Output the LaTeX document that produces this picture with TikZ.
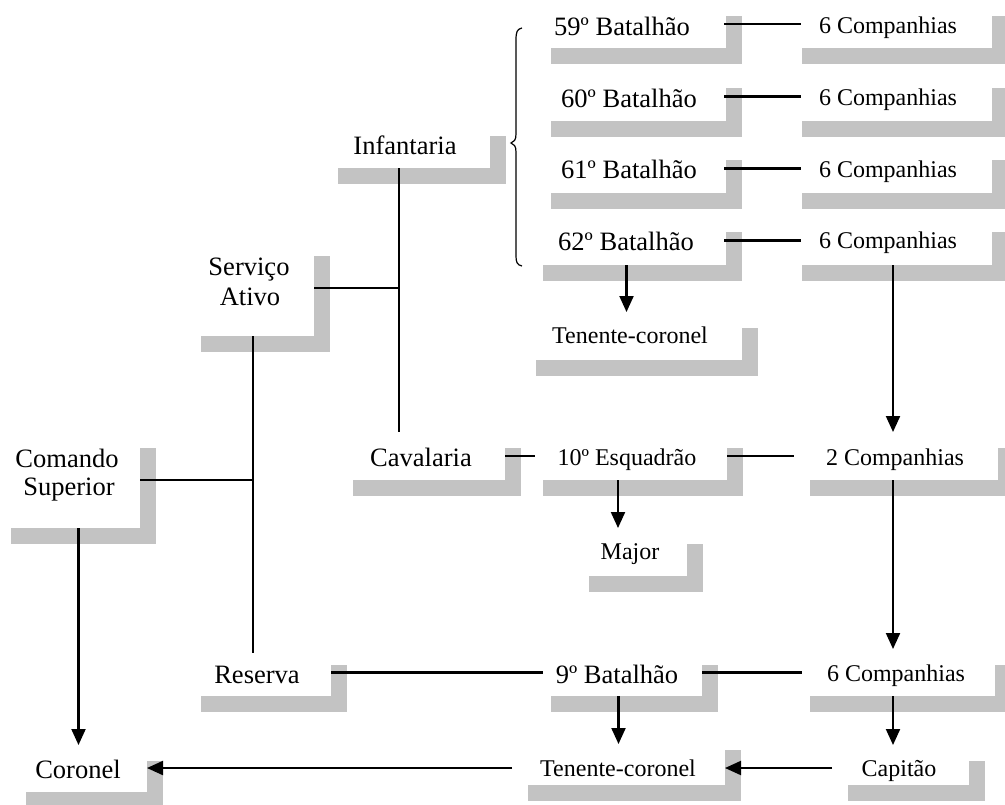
\documentclass[tikz,border=0pt]{standalone}
\usepackage{fontspec}
\setmainfont{Liberation Serif}
\usetikzlibrary{arrows.meta,calc,fit,shadows}
\definecolor{shgray}{RGB}{195,195,195}
\tikzset{
 bx/.style={inner sep=0pt, outer sep=0pt, fill=white, drop shadow={shadow xshift=12pt, shadow yshift=-12pt, fill=shgray, opacity=1}},
 big/.style={inner sep=0pt, anchor=base, font=\fontsize{19.9}{22}\selectfont},
 small/.style={inner sep=0pt, anchor=base, font=\fontsize{18}{20}\selectfont},
 con/.style={line width=1.55pt},
 arr/.style={con, -{Triangle[length=12pt,width=10.5pt]}},
 brc/.style={line width=0.9pt},
}
\begin{document}
\begin{tikzpicture}[x=0.75pt,y=-0.75pt]
\useasboundingbox (0,0) rectangle (1005,804);
% boxes with shadows
\node[bx, fit={(535,0)(726,48)}] (b59) {};
\node[bx, fit={(535,72)(726,121)}] (b60) {};
\node[bx, fit={(535,144)(726,193)}] (b61) {};
\node[bx, fit={(527,216)(726,265)}] (b62) {};
\node[bx, fit={(786,0)(992,48)}] (c59) {};
\node[bx, fit={(786,72)(992,121)}] (c60) {};
\node[bx, fit={(786,144)(992,193)}] (c61) {};
\node[bx, fit={(786,216)(992,265)}] (c62) {};
\node[bx, fit={(520,312)(742,360)}] (tc1) {};
\node[bx, fit={(322,120)(490,168)}] (inf) {};
\node[bx, fit={(185,240)(314,336)}] (sa) {};
\node[bx, fit={(-5,432)(140,528)}] (cs) {};
\node[bx, fit={(337,432)(505,480)}] (cav) {};
\node[bx, fit={(527,432)(727,480)}] (esq) {};
\node[bx, fit={(794,432)(998,480)}] (c2) {};
\node[bx, fit={(573,528)(687,576)}] (maj) {};
\node[bx, fit={(185,649)(331,696)}] (res) {};
\node[bx, fit={(535,649)(702,696)}] (b9) {};
\node[bx, fit={(794,649)(995,696)}] (c6) {};
\node[bx, fit={(512,734)(725,785)}] (tc2) {};
\node[bx, fit={(832,745)(969,785)}] (cap) {};
\node[bx, fit={(10,745)(147,792)}] (cor) {};
% texts
\node[big] (l59) at (622,35) {59º Batalhão};
\node[big] (l60) at (629,107) {60º Batalhão};
\node[big] (l61) at (629,178) {61º Batalhão};
\node[big] (l62) at (626,250) {62º Batalhão};
\node[small] (lc59) at (888,33) {6 Companhias};
\node[small] (lc60) at (888,105) {6 Companhias};
\node[small] (lc61) at (888,177) {6 Companhias};
\node[small] (lc62) at (888,248) {6 Companhias};
\node[small] (ltc1) at (630,343) {Tenente-coronel};
\node[big] (linf) at (405,154) {Infantaria};
\node[big] (lsa1) at (249,275) {Serviço};
\node[big] (lsa2) at (250,305) {Ativo};
\node[big] (lcs1) at (67,467) {Comando};
\node[big] (lcs2) at (69,495) {Superior};
\node[big] (lcav) at (421,466) {Cavalaria};
\node[small] (lesq) at (627,465) {10º Esquadrão};
\node[small] (lc2) at (895,465) {2 Companhias};
\node[small] (lmaj) at (630,559) {Major};
\node[big] (lres) at (257,683) {Reserva};
\node[big] (lb9) at (617,683) {9º Batalhão};
\node[small] (lc6) at (896,681) {6 Companhias};
\node[small] (ltc2) at (618,776) {Tenente-coronel};
\node[small] (lcap) at (899,776) {Capitão};
\node[big] (lcor) at (78,778) {Coronel};
% connectors
\foreach \r in {59,60,61,62}
  \draw[con] ($(b\r.east)+(-2,0)$) -- ($(c\r.west)+(15,0)$);
\draw[brc] (522,28) .. controls (517,29) and (516,32) .. (516,40) -- (516,134)
  .. controls (516,140) and (514,142) .. (511,143)
  .. controls (514,144) and (516,146) .. (516,152) -- (516,256)
  .. controls (516,262) and (517,265) .. (522,266);
\coordinate (jInf) at (399,288);
\draw[con] (inf.south -| jInf) -- (cav.north -| jInf);
\draw[con] (sa.east |- jInf) -- (jInf);
\coordinate (jSa) at (253,480);
\draw[con] (sa.south -| jSa) -- ($(res.north -| jSa)+(0,4)$);
\draw[con] (cs.east |- jSa) -- (jSa);
\draw[arr] (cs.south -| cor.north) -- (cor.north);
\draw[con] (cav.east) -- ($(esq.west)+(8,0)$);
\draw[con] (esq.east) -- (c2.west);
\draw[arr] ($(esq.south)+(-9,0)$) -- ($(esq.south |- maj.north)+(-9,0)$);
\draw[arr] (b62.south) -- (b62.south |- tc1.north);
\coordinate (vR) at (893,0);
\draw[arr] (c62.south -| vR) -- (c2.north -| vR);
\draw[arr] (c2.south -| vR) -- (c6.north -| vR);
\draw[con] (res.east) -- ($(b9.west)+(8,0)$);
\draw[con] (b9.east) -- ($(c6.west)+(8,0)$);
\draw[arr] (b9.south) -- ($(b9.south |- tc2.north)+(0,10)$);
\draw[arr] (c6.south -| vR) -- (cap.north -| vR);
\coordinate (rowY) at (0,768);
\draw[arr] (cap.west |- rowY) -- (tc2.east |- rowY);
\draw[arr] (tc2.west |- rowY) -- (cor.east |- rowY);
\end{tikzpicture}
\end{document}
